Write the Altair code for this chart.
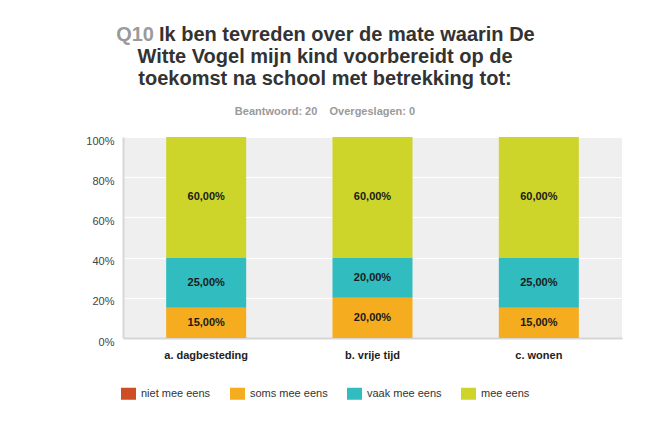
import altair as alt
import pandas as pd

categories = ["a. dagbesteding", "b. vrije tijd", "c. wonen"]
series = ["niet mee eens", "soms mee eens", "vaak mee eens", "mee eens"]
values_niet = [0, 0, 0]
values_soms = [15, 20, 15]
values_vaak = [25, 20, 25]
values_mee = [60, 60, 60]
colors = ["#cf4d24", "#f5ad1f", "#31bcbf", "#cdd42a"]
y_ticks = [0, 10, 20, 30, 40, 50, 60, 70, 80, 90, 100]

title_q = "Q10"
title_line1 = "Ik ben tevreden over de mate waarin De"
title_line2 = "Witte Vogel mijn kind voorbereidt op de"
title_line3 = "toekomst na school met betrekking tot:"
subtitle = "Beantwoord: 20\u00a0\u00a0\u00a0\u00a0Overgeslagen: 0"

rows = []
for i, c in enumerate(categories):
    for j, (s, vals) in enumerate(zip(series, [values_niet, values_soms, values_vaak, values_mee])):
        rows.append({"cat": c, "series": s, "order": j, "value": vals[i]})
df = pd.DataFrame(rows)

FONT = "Liberation Sans"

base = alt.Chart(df).transform_stack(
    stack="value", groupby=["cat"], sort=[alt.SortField("order", "ascending")], as_=["y0", "y1"]
)

x_enc = alt.X("cat:N", sort=categories, title=None,
              scale=alt.Scale(paddingInner=0, paddingOuter=0),
              axis=alt.Axis(labelAngle=0, labelFont=FONT, labelFontSize=11, labelFontWeight="bold",
                            labelColor="#222", labelPadding=11, ticks=False,
                            domainColor="#d6d6d6", domainWidth=2))

bars = base.mark_bar(size=80).encode(
    x=x_enc,
    y=alt.Y("y0:Q", scale=alt.Scale(domain=[0, 100]), title=None,
            axis=alt.Axis(values=y_ticks,
                          labelExpr="datum.value % 20 == 0 ? datum.value + '%' : ''",
                          labelFont=FONT, labelFontSize=11, labelColor="#444",
                          labelPadding=9, labelOffset=4, ticks=False,
                          gridColor="#ffffff", gridWidth=1,
                          domainColor="#d6d6d6", domainWidth=2)),
    y2="y1:Q",
    color=alt.Color("series:N", scale=alt.Scale(domain=series, range=colors),
                    sort=series,
                    legend=alt.Legend(title=None, orient="none", direction="horizontal",
                                      legendX=-2, legendY=249,
                                      symbolType="M-1,-0.8L1,-0.8L1,0.8L-1,0.8Z",
                                      symbolSize=225, symbolStrokeWidth=0, symbolOpacity=1,
                                      labelFont=FONT, labelFontSize=11, labelColor="#333",
                                      labelOffset=5, columnPadding=19)),
)

labels = base.transform_filter("datum.value > 0").transform_calculate(
    mid="(datum.y0 + datum.y1) / 2",
    lbl="replace(format(datum.value, '.2f'), '.', ',') + '%'",
).mark_text(font=FONT, fontSize=11, fontWeight="bold", color="#1a1a1a").encode(
    x=alt.X("cat:N", sort=categories),
    y="mid:Q",
    text="lbl:N",
)

one = pd.DataFrame({"k": [0]})
t_q = alt.Chart(one).mark_text(font=FONT, fontSize=20, fontWeight="bold", color="#9a9a9a",
                               align="right", baseline="alphabetic").encode(
    x=alt.value(31), y=alt.value(-96), text=alt.value(title_q))
t1 = alt.Chart(one).mark_text(font=FONT, fontSize=20, fontWeight="bold", color="#333333",
                              align="left", baseline="alphabetic").encode(
    x=alt.value(36), y=alt.value(-96), text=alt.value(title_line1))
t2 = alt.Chart(one).mark_text(font=FONT, fontSize=20, fontWeight="bold", color="#333333",
                              align="center", baseline="alphabetic").encode(
    x=alt.value(202), y=alt.value(-74), text=alt.value(title_line2))
t3 = alt.Chart(one).mark_text(font=FONT, fontSize=20, fontWeight="bold", color="#333333",
                              align="center", baseline="alphabetic").encode(
    x=alt.value(202), y=alt.value(-52), text=alt.value(title_line3))
t_sub = alt.Chart(one).mark_text(font=FONT, fontSize=11, fontWeight="bold", color="#9a9a9a",
                                 align="center", baseline="alphabetic").encode(
    x=alt.value(202), y=alt.value(-22), text=alt.value(subtitle))

chart = alt.layer(bars, labels, t_q, t1, t2, t3, t_sub).properties(
    width=499, height=201,
    autosize=alt.AutoSizeParams(type="none"),
    padding={"left": 123, "top": 137, "right": 28, "bottom": 103},
    background="#ffffff",
).configure_view(fill="#efefef", stroke=None).configure_axisX(grid=False)

chart.save("out.html", embed_options={"renderer": "svg", "actions": False})
